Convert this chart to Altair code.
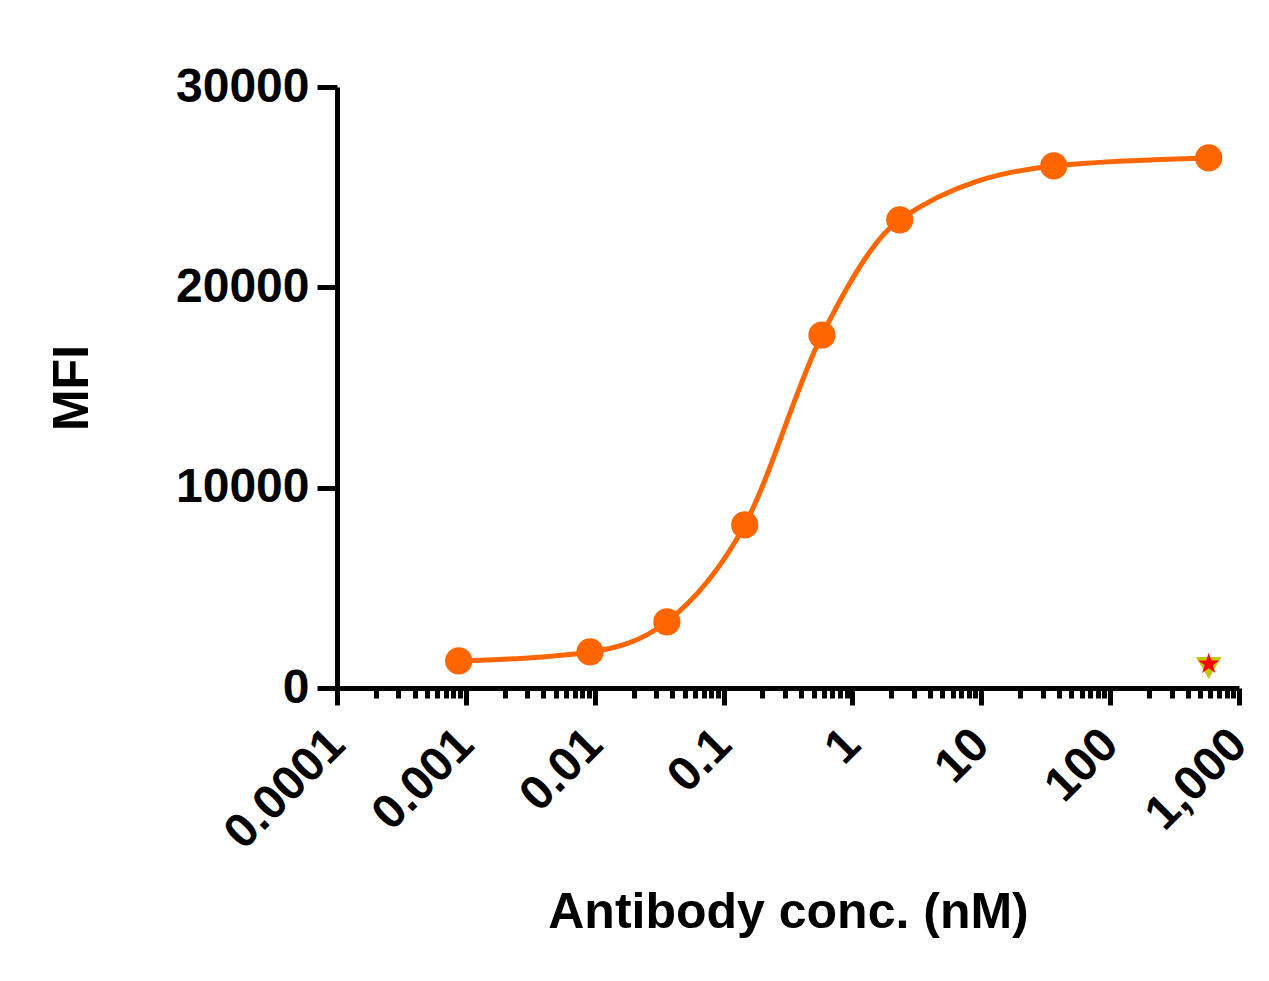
import altair as alt
import pandas as pd

# binding curve
conc = [0.00088, 0.0092, 0.0363, 0.146, 0.58, 2.33, 36.5, 582]
mfi = [1350, 1800, 3300, 8140, 17620, 23370, 26060, 26460]

# control series, only visible at the top concentration
ctrl_conc = [582]
ctrl_star = [1200]
ctrl_tri = [1000]

major_ticks = [0.0001, 0.001, 0.01, 0.1, 1, 10, 100, 1000]
minor_ticks = [m * d for d in major_ticks[:-1] for m in range(2, 10)]
y_ticks = [0, 10000, 20000, 30000]

ORANGE = "#FF6600"
FONT = "Liberation Sans"
STAR = ("M0,-1L0.2245,-0.309L0.951,-0.309L0.3633,0.118L0.5878,0.809L0,0.382"
        "L-0.5878,0.809L-0.3633,0.118L-0.951,-0.309L-0.2245,-0.309Z")

curve = pd.DataFrame({"conc": conc, "mfi": mfi})
star = pd.DataFrame({"conc": ctrl_conc, "mfi": ctrl_star})
tri = pd.DataFrame({"conc": ctrl_conc, "mfi": ctrl_tri})

is_major = "indexof(" + str(major_ticks) + ", datum.value) >= 0"

x_enc = alt.X(
    "conc:Q",
    scale=alt.Scale(type="log", domain=[0.0001, 1000]),
    axis=alt.Axis(
        title="Antibody conc. (nM)",
        values=major_ticks + minor_ticks,
        labelExpr=is_major + " ? format(datum.value, ',') : ''",
        labelAngle=-45,
        labelAlign="right",
        labelBaseline="middle",
        labelPadding=32,
        labelOverlap=False,
        labelFlush=False,
        tickSize={"condition": {"test": is_major, "value": 17}, "value": 10},
        titlePadding=30,
        grid=False,
    ),
)
y_enc = alt.Y(
    "mfi:Q",
    scale=alt.Scale(domain=[0, 30000], nice=False),
    axis=alt.Axis(
        title="MFI",
        values=y_ticks,
        format="d",
        tickSize=20,
        labelPadding=8,
        titlePadding=78,
        grid=False,
    ),
)

line = alt.Chart(curve).mark_line(
    color=ORANGE, strokeWidth=5, interpolate="monotone"
).encode(x=x_enc, y=y_enc)

points = alt.Chart(curve).mark_point(
    shape="circle", filled=True, opacity=1, size=740, color=ORANGE
).encode(x=x_enc, y=y_enc)

tri_pts = alt.Chart(tri).mark_point(
    shape="triangle-down", filled=True, opacity=1, size=650, color="#C8C400"
).encode(x=x_enc, y=y_enc)

star_pts = alt.Chart(star).mark_point(
    shape=STAR, filled=True, opacity=1, size=500, color="#FF0000"
).encode(x=x_enc, y=y_enc)

chart = alt.layer(line, points, tri_pts, star_pts).properties(
    width=902,
    height=601,
    autosize=alt.AutoSizeParams(type="none"),
    padding={"left": 329, "top": 79, "right": 22, "bottom": 285},
    background="white",
).configure_view(
    stroke=None
).configure_axis(
    domainColor="black",
    domainWidth=5,
    tickColor="black",
    tickWidth=5,
    labelFont=FONT,
    labelFontSize=48,
    labelFontWeight="bold",
    labelColor="black",
    titleFont=FONT,
    titleFontSize=50,
    titleFontWeight="bold",
    titleColor="black",
)

chart.save("out.html", embed_options={"renderer": "svg", "actions": False})
